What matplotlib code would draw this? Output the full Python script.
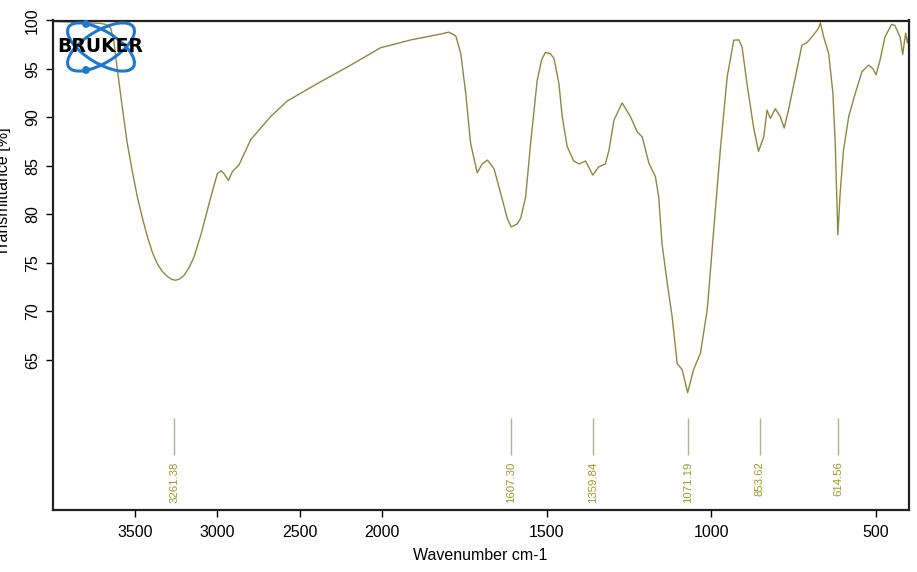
#!/usr/bin/env python3
"""
FTIR spectrum (Bruker style) - transmittance vs wavenumber
"""

import matplotlib.pyplot as plt
import numpy as np
from matplotlib.patches import Ellipse, Circle

plt.rcParams['font.family'] = ['Liberation Sans', 'DejaVu Sans']

# ============================================================================
# Spectrum data
# ============================================================================
wavenumber = np.array([
    3996, 3829, 3709, 3679, 3648, 3630, 3607, 3577, 3547, 3516, 3486, 3455,
    3425, 3395, 3365, 3334, 3304, 3278, 3253, 3228, 3203, 3172, 3142, 3100,
    3061, 3030, 3000, 2976, 2960, 2933, 2909, 2869, 2798, 2747,
    2676, 2575, 2392, 2190, 2008, 1974, 1913, 1822, 1797, 1776, 1761, 1746,
    1731, 1711, 1696, 1680, 1660, 1640, 1620, 1608, 1590, 1579, 1564, 1549, 1529,
    1515, 1504, 1490, 1478, 1463, 1453, 1438, 1418, 1402, 1382, 1360, 1342, 1322, 1311,
    1296, 1271, 1246, 1225, 1210, 1190, 1170, 1160, 1150, 1134, 1119, 1104,
    1089, 1072, 1054, 1033, 1013, 1010, 993, 973, 952, 932, 917, 907,
    892, 872, 857, 841, 831, 821, 806, 791, 779, 766, 745, 725,
    710, 690, 675, 669, 659, 644, 631, 624, 616, 609, 599, 583,
    563, 543, 523, 510, 500, 488, 473, 453, 443, 427, 419, 414,
    410, 405, 402])
transmittance = np.array([
    99.9, 99.8, 99.7, 99.6, 99.2, 98.0, 94.9, 91.0, 87.3, 84.4, 81.8, 79.6,
    77.7, 76.1, 74.9, 74.1, 73.6, 73.3, 73.2, 73.35, 73.7, 74.5, 75.6, 77.9,
    80.4, 82.4, 84.2, 84.5, 84.2, 83.5, 84.4, 85.1, 87.7, 88.7,
    90.1, 91.7, 93.5, 95.4, 97.2, 97.45, 98.0, 98.6, 98.8, 98.4, 96.6, 92.5,
    87.3, 84.3, 85.2, 85.6, 84.7, 82.2, 79.6, 78.7, 79.0, 79.6, 81.8, 87.3, 93.8,
    96.0, 96.7, 96.6, 96.1, 93.5, 90.1, 87.0, 85.5, 85.2, 85.5, 84.05, 84.9, 85.2, 86.6,
    89.7, 91.5, 90.1, 88.5, 88.0, 85.3, 83.9, 81.8, 77.0, 72.9, 69.4, 64.6,
    64.0, 61.6, 64.0, 65.7, 70.1, 71.2, 78.4, 86.6, 94.2, 97.97, 98.0, 97.3,
    93.5, 89.0, 86.5, 88.0, 90.75, 89.9, 90.9, 90.1, 88.9, 90.75, 94.2, 97.45,
    97.7, 98.5, 99.2, 99.75, 98.3, 96.6, 92.5, 87.3, 77.9, 82.2, 86.6, 90.1,
    92.5, 94.7, 95.4, 95.05, 94.4, 95.9, 98.3, 99.6, 99.5, 98.3, 96.5, 97.8,
    98.7, 97.7, 98.2])

# Labelled peaks
peaks = [3261.38, 1607.30, 1359.84, 1071.19, 853.62, 614.56]
peak_labels = ['3261.38', '1607.30', '1359.84', '1071.19', '853.62', '614.56']

x_ticks = [3500, 3000, 2500, 2000, 1500, 1000, 500]
y_ticks = [65, 70, 75, 80, 85, 90, 95, 100]

curve_color = '#8a8a3e'
label_color = '#9a9a24'
marker_color = '#b2b296'


# split wavenumber scale: region above 2000 cm-1 compressed by 2
def fwd(w):
    w = np.asarray(w, dtype=float)
    return np.where(w > 2000, 2000 + (w - 2000) / 2.0, w)


def inv(u):
    u = np.asarray(u, dtype=float)
    return np.where(u > 2000, 2000 + (u - 2000) * 2.0, u)


fig = plt.figure(figsize=(9.17, 5.72), dpi=100)
ax = fig.add_axes([52.7 / 917, 1 - 510 / 572, (909 - 52.7) / 917, (510 - 20.5) / 572])

ax.plot(wavenumber, transmittance, color=curve_color, linewidth=1.0)
ax.set_xscale('function', functions=(fwd, inv))
ax.set_xlim(4000, 400)
ax.set_ylim(49.5, 100)

ax.set_xticks(x_ticks)
ax.set_xticklabels([str(t) for t in x_ticks])
ax.set_yticks(y_ticks)
ax.set_yticklabels([str(t) for t in y_ticks], rotation=90, va='center')
ax.tick_params(axis='x', length=5, width=1, pad=6, labelsize=11.5, direction='out')
ax.tick_params(axis='y', length=5, width=1, pad=4, labelsize=11.5, direction='out')
ax.minorticks_off()
for s in ax.spines.values():
    s.set_linewidth(1.6)
    s.set_color('#222222')

# peak markers
ax.vlines(peaks, 55.2, 59.0, color=marker_color, linewidth=1.0)
for p, lab in zip(peaks, peak_labels):
    ax.text(p, 54.5, lab, rotation=90, ha='center', va='top',
            fontsize=8.2, color=label_color)

fig.text(480 / 917, 1 - 555 / 572, 'Wavenumber cm-1', ha='center', va='center',
         fontsize=11.5)
fig.text(4 / 917, 1 - 192 / 572, 'Transmittance [%]', ha='center', va='center',
         rotation=90, fontsize=11.5)

# Bruker logo overlay (pixel coordinates)
lax = fig.add_axes([0, 0, 1, 1])
lax.set_xlim(0, 917)
lax.set_ylim(572, 0)
lax.axis('off')
logo_blue = '#1f78d0'
lax.add_patch(Ellipse((101, 47), 76, 32, angle=31.5, fill=False,
                      edgecolor=logo_blue, linewidth=2.2))
lax.add_patch(Ellipse((101, 47), 76, 32, angle=-31.5, fill=False,
                      edgecolor=logo_blue, linewidth=2.2))
lax.add_patch(Circle((86, 24), 3.2, color=logo_blue))
lax.add_patch(Circle((86, 70), 3.2, color=logo_blue))
lax.text(100, 47, 'BRUKER', ha='center', va='center', fontsize=13.5,
         fontweight='bold', color='black', family='DejaVu Sans')

fig.savefig('out.png', dpi=100)
print("Saved: out.png")
